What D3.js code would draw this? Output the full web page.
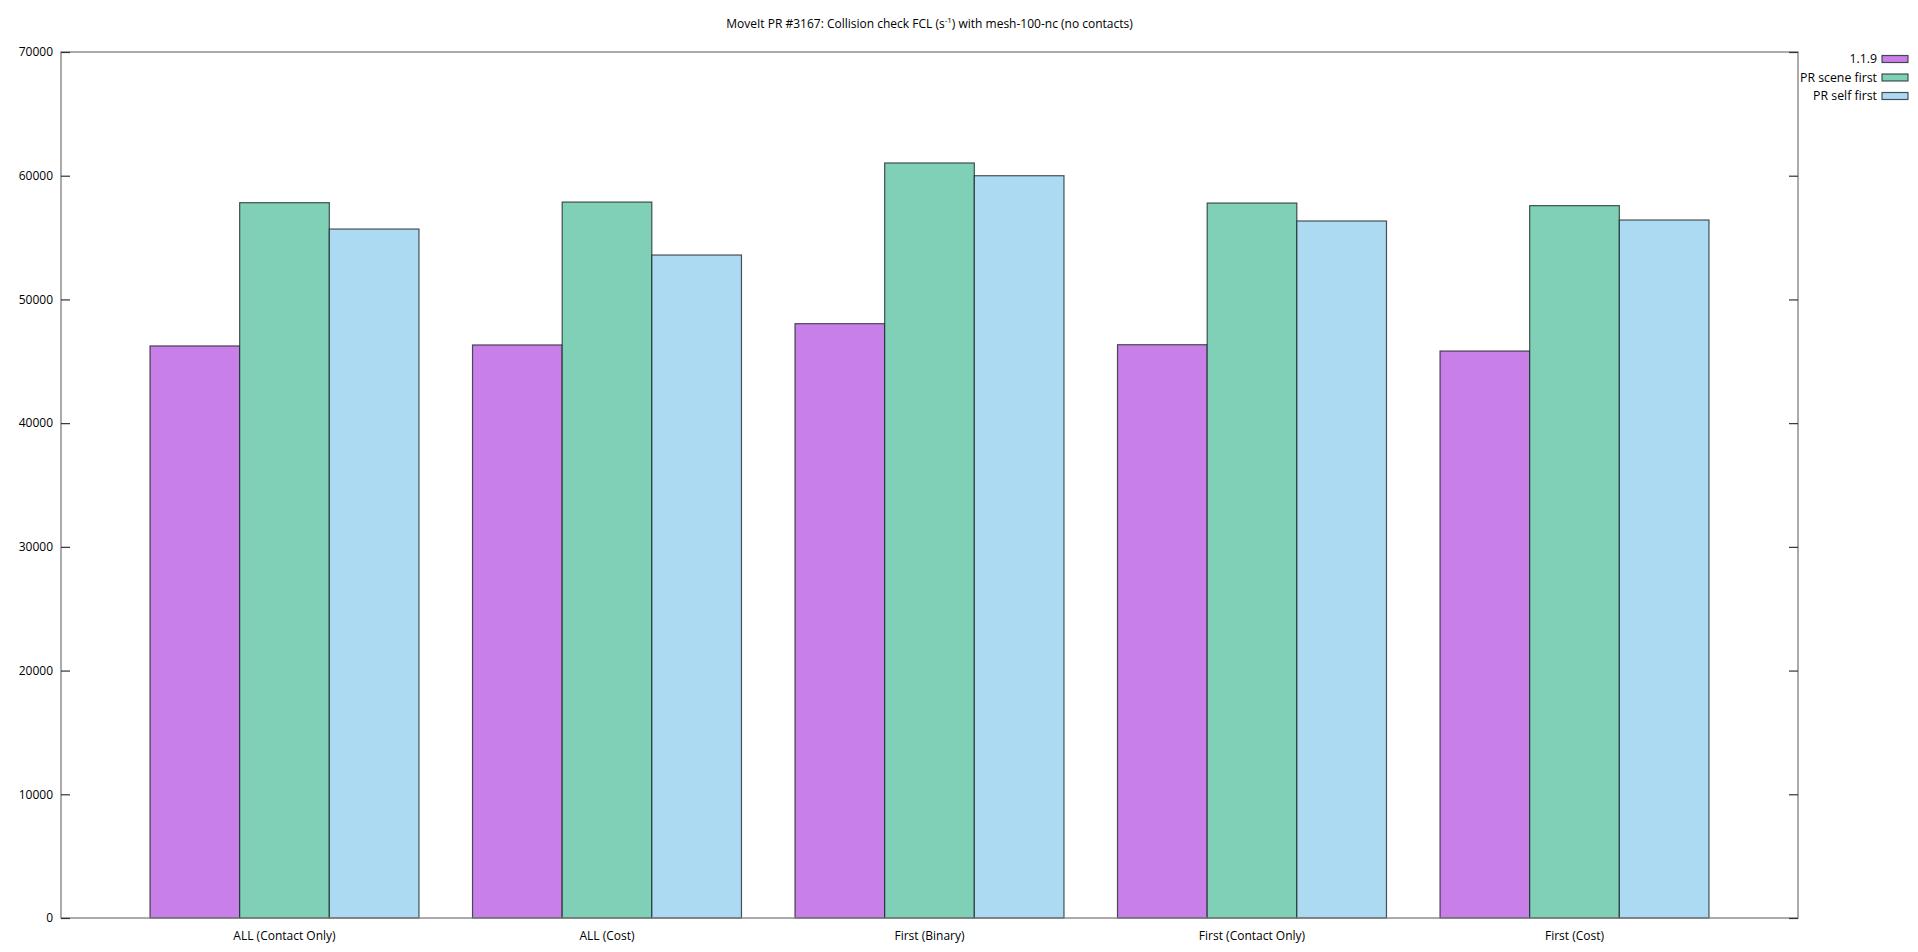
<!DOCTYPE html>
<html><head><meta charset="utf-8">
<script src="https://cdn.jsdelivr.net/npm/d3@7"></script>
<style>
body{margin:0;background:#fff;}
text{font-family:"Open Sans","Noto Sans",sans-serif;fill:#000;}
</style></head>
<body>
<svg id="c" width="1918" height="952"></svg>
<script>
const categories = ["ALL (Contact Only)", "ALL (Cost)", "First (Binary)", "First (Contact Only)", "First (Cost)"];
const seriesNames = ["1.1.9", "PR scene first", "PR self first"];
const v119 = [46240, 46320, 48040, 46340, 45830];
const vScene = [57820, 57870, 61030, 57790, 57580];
const vSelf = [55690, 53590, 60000, 56340, 56420];
const yTicks = [0, 10000, 20000, 30000, 40000, 50000, 60000, 70000];
const colors = ["#c880e8", "#80d0b8", "#acdaf2"];
const seriesValues = [v119, vScene, vSelf];

const svg = d3.select("#c");
const L = 61, R = 1798, T = 52, B = 918;

const x = d3.scaleBand().domain(categories).range([L, R]).paddingInner(0.166).paddingOuter(0.276);
const xs = d3.scaleBand().domain(seriesNames).range([0, x.bandwidth()]);
const y = d3.scaleLinear().domain([0, 70000]).range([B, T]);

// title
const title = svg.append("text").attr("x", (L + R) / 2).attr("y", 28).attr("text-anchor", "middle").attr("font-size", 12);
title.append("tspan").text("MoveIt PR #3167: Collision check FCL (s");
title.append("tspan").attr("font-size", 8).attr("dy", -5).text("-1");
title.append("tspan").attr("dy", 5).text(") with mesh-100-nc (no contacts)");

// bars
categories.forEach((c, i) => {
  seriesNames.forEach((s, j) => {
    const v = seriesValues[j][i];
    svg.append("rect")
      .attr("x", x(c) + xs(s))
      .attr("y", y(v))
      .attr("width", xs.bandwidth())
      .attr("height", y(0) - y(v))
      .attr("fill", colors[j])
      .attr("stroke", "rgba(20,30,30,0.75)")
      .attr("stroke-width", 1.2);
  });
});

// frame
svg.append("rect").attr("x", L).attr("y", T).attr("width", R - L).attr("height", B - T)
  .attr("fill", "none").attr("stroke", "#7f7f7f").attr("stroke-width", 1.3);

// y axis left
const yAxisL = d3.axisLeft(y).tickValues(yTicks).tickSize(-9).tickPadding(8).tickFormat(d3.format("d"));
const gL = svg.append("g").attr("transform", `translate(${L},0)`).call(yAxisL);
gL.select(".domain").remove();
gL.selectAll("line").attr("stroke", "#333").attr("stroke-width", 1.2);
gL.selectAll("text").attr("font-size", 12).attr("font-family", "'Open Sans','Noto Sans',sans-serif").attr("fill", "#000");

// y axis right (mirror ticks)
const yAxisR = d3.axisRight(y).tickValues(yTicks).tickSize(-9).tickFormat("");
const gR = svg.append("g").attr("transform", `translate(${R},0)`).call(yAxisR);
gR.select(".domain").remove();
gR.selectAll("line").attr("stroke", "#333").attr("stroke-width", 1.2);

// x labels
const xAxis = d3.axisBottom(x).tickSize(0).tickPadding(13);
const gX = svg.append("g").attr("transform", `translate(0,${B})`).call(xAxis);
gX.select(".domain").remove();
gX.selectAll("text").attr("font-size", 12).attr("font-family", "'Open Sans','Noto Sans',sans-serif").attr("fill", "#000");

// legend
const lg = svg.append("g");
seriesNames.forEach((s, j) => {
  const yy = 59 + j * 18.5;
  lg.append("text").attr("x", 1877).attr("y", yy + 4).attr("text-anchor", "end").attr("font-size", 12.3).text(s);
  lg.append("rect").attr("x", 1882).attr("y", yy - 3.5).attr("width", 26).attr("height", 7)
    .attr("fill", colors[j]).attr("stroke", "rgba(20,30,30,0.75)").attr("stroke-width", 1.2);
});
</script>
</body></html>
